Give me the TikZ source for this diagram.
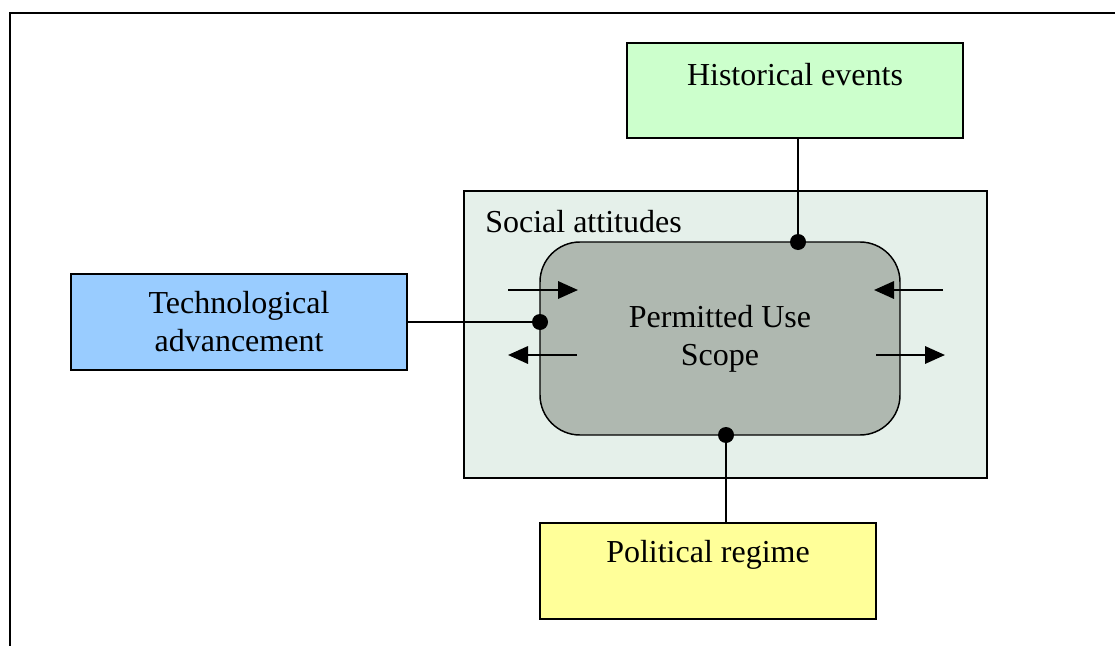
\documentclass[tikz,border=0pt]{standalone}
\usepackage{fontspec}
\setmainfont{Liberation Serif}
\usetikzlibrary{arrows.meta}
\definecolor{histfill}{HTML}{CCFFCC}
\definecolor{socfill}{HTML}{E5F0EA}
\definecolor{permfill}{HTML}{AFB8B0}
\definecolor{techfill}{HTML}{99CCFF}
\definecolor{polfill}{HTML}{FFFF99}
\tikzset{
  x=0.75pt, y=-0.75pt,
  lbl/.style={font=\fontsize{24}{28.5}\selectfont, align=center, inner sep=0pt},
  boxline/.style={draw=black, line width=1.1pt},
  conn/.style={draw=black, line width=1.7pt},
  dotc/.style={circle, fill=black, inner sep=0pt, minimum size=12pt},
  flow/.style={draw=black, line width=1.7pt, -{Triangle[length=15pt, width=13pt]}}
}
\begin{document}
\begin{tikzpicture}
\useasboundingbox (0,0) rectangle (1115,646);
\begin{scope}
\clip (0,0) rectangle (1115,646);
\draw[line width=1.6pt] (10,13) rectangle (1130,660);
\end{scope}
% boxes
\node[boxline, fill=histfill, minimum width=336*0.75pt, minimum height=95*0.75pt, inner sep=0pt] (hist) at (795,90.5) {};
\node[lbl] (histt) at (795,75) {Historical events};
\node[boxline, fill=socfill, minimum width=523*0.75pt, minimum height=287*0.75pt, inner sep=0pt] (soc) at (725.5,334.5) {};
\node[lbl, anchor=base west] (soct) at (485,232) {Social attitudes};
\node[boxline, fill=permfill, rounded corners=30pt, minimum width=360*0.75pt, minimum height=193*0.75pt, inner sep=0pt] (perm) at (720,338.5) {};
\node[lbl] (permt) at (720,339) {Permitted Use\\Scope};
\node[boxline, fill=techfill, minimum width=336*0.75pt, minimum height=96*0.75pt, inner sep=0pt] (tech) at (239,322) {};
\node[lbl] (techt) at (239,322) {Technological\\advancement};
\node[boxline, fill=polfill, minimum width=336*0.75pt, minimum height=96*0.75pt, inner sep=0pt] (pol) at (708,571) {};
\node[lbl] (polt) at (708,555) {Political regime};
% dots
\node[dotc] (dh) at (798,242) {};
\node[dotc] (dt) at (540,322) {};
\node[dotc] (dp) at (726,435) {};
% connectors
\draw[conn] (hist.south -| dh) -- (dh.center);
\draw[conn] (tech.east) -- (dt.center);
\draw[conn] (pol.north -| dp) -- (dp.center);
% flow arrows
\coordinate (a1s) at (508,290); \coordinate (a1e) at (578,290);
\coordinate (a2s) at (577,355); \coordinate (a2e) at (508,355);
\coordinate (a3s) at (943,290); \coordinate (a3e) at (874,290);
\coordinate (a4s) at (876,355); \coordinate (a4e) at (945,355);
\draw[flow] (a1s) -- (a1e);
\draw[flow] (a2s) -- (a2e);
\draw[flow] (a3s) -- (a3e);
\draw[flow] (a4s) -- (a4e);
\end{tikzpicture}
\end{document}
